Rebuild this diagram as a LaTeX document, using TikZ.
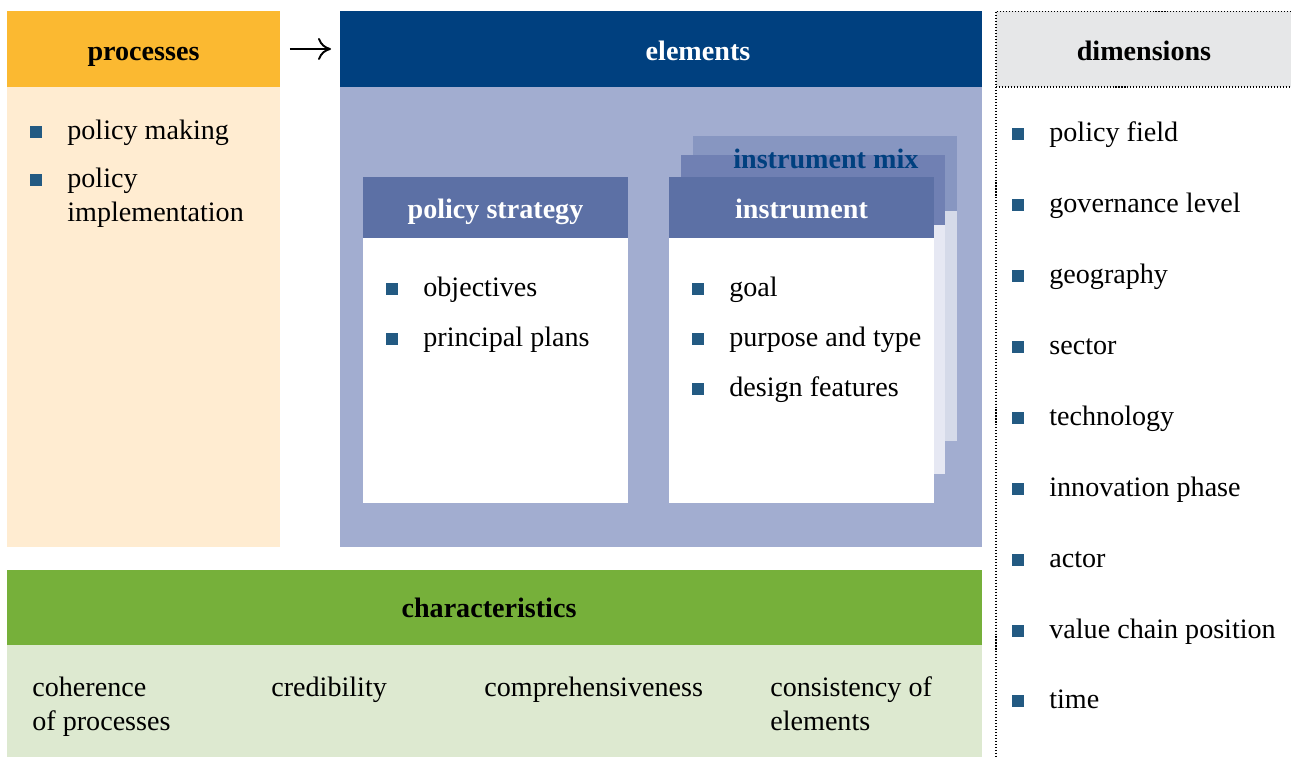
\documentclass[tikz,border=0pt]{standalone}
\usepackage{fontspec}
\setmainfont{Liberation Serif}
\usetikzlibrary{arrows.meta}

\definecolor{procH}{RGB}{251,185,49}
\definecolor{procB}{RGB}{255,236,209}
\definecolor{elemH}{RGB}{0,64,127}
\definecolor{elemB}{RGB}{162,173,208}
\definecolor{innerH}{RGB}{92,112,165}
\definecolor{midH}{RGB}{112,128,179}
\definecolor{midB}{RGB}{230,232,243}
\definecolor{backH}{RGB}{135,150,193}
\definecolor{backB}{RGB}{213,218,233}
\definecolor{mixC}{RGB}{0,64,127}
\definecolor{charH}{RGB}{118,176,58}
\definecolor{charB}{RGB}{221,233,208}
\definecolor{dimH}{RGB}{230,231,232}
\definecolor{bulC}{RGB}{35,90,130}

% bullet item: name, bullet x, bullet y, text
\newcommand{\bulletitem}[4]{%
  \node[bul] (#1b) at (#2,#3) {};
  \node[txt] (#1) at (#2+31,#3+7) {#4};
}

\begin{document}
\begin{tikzpicture}[x=0.02cm,y=-0.02cm,
  every node/.style={font=\fontsize{16}{19.6}\selectfont},
  panel/.style={anchor=north west, inner sep=0, outer sep=0, draw=none},
  head/.style={font=\fontsize{16}{19.6}\selectfont\bfseries, anchor=base, inner sep=0},
  txt/.style={anchor=base west, inner sep=0},
  bul/.style={fill=bulC, minimum size=0.23cm, inner sep=0, outer sep=0},
  dotline/.style={line width=0.6pt, dash pattern=on 0.6pt off 1.1pt},
]
\useasboundingbox (0,0) rectangle (1291,757);

% processes column
\node[panel, fill=procB, minimum width=5.46cm, minimum height=9.2cm] (procb) at (7,87) {};
\node[panel, fill=procH, minimum width=5.46cm, minimum height=1.52cm] (proch) at (7,11) {};
\node[head] (proct) at (143.5,60.5) {processes};
\bulletitem{p1}{36}{132}{policy making}
\node[bul] (p2b) at (36,180) {};
\node[txt] (p2) at (67,187) {\begin{tabular}[t]{@{}l@{}}policy\\implementation\end{tabular}};

% elements panel
\node[panel, fill=elemB, minimum width=12.84cm, minimum height=9.2cm] (elemb) at (340,87) {};
\node[panel, fill=elemH, minimum width=12.84cm, minimum height=1.52cm] (elemh) at (340,11) {};
\node[head, text=white] (elemt) at (698,60.5) {elements};

\draw[-{To[length=2.6mm,width=4.4mm]}, line width=1.1pt, shorten >=0.18cm, shorten <=0.2cm]
  (proch) -- (elemh);

% stacked instrument cards (back to front)
\node[panel, fill=backB, minimum width=5.28cm, minimum height=4.6cm] (backb) at (693,211) {};
\node[panel, fill=backH, minimum width=5.28cm, minimum height=1.5cm] (backh) at (693,136) {};
\node[panel, fill=midB, minimum width=5.28cm, minimum height=4.98cm] (midb) at (681,225) {};
\node[panel, fill=midH, minimum width=5.28cm, minimum height=1.4cm] (midh) at (681,155) {};
\node[head, text=mixC, anchor=base west] (mixt) at (733,168) {instrument mix};

\node[panel, fill=white, minimum width=5.3cm, minimum height=5.3cm] (instb) at (669,238) {};
\node[panel, fill=innerH, minimum width=5.3cm, minimum height=1.22cm] (insth) at (669,177) {};
\node[head, text=white] (instt) at (801.5,218) {instrument};
\bulletitem{i1}{698}{289}{goal}
\bulletitem{i2}{698}{339}{purpose and type}
\bulletitem{i3}{698}{389}{design features}

% policy strategy card
\node[panel, fill=white, minimum width=5.3cm, minimum height=5.3cm] (polb) at (363,238) {};
\node[panel, fill=innerH, minimum width=5.3cm, minimum height=1.22cm] (polh) at (363,177) {};
\node[head, text=white] (polt) at (495.5,218) {policy strategy};
\bulletitem{s1}{392}{289}{objectives}
\bulletitem{s2}{392}{339}{principal plans}

% characteristics band
\node[panel, fill=charB, minimum width=19.5cm, minimum height=2.24cm] (charb) at (7,645) {};
\node[panel, fill=charH, minimum width=19.5cm, minimum height=1.5cm] (charh) at (7,570) {};
\node[head] (chart) at (489,617) {characteristics};
\node[txt] (c1) at (32,696) {\begin{tabular}[t]{@{}l@{}}coherence\\of processes\end{tabular}};
\node[txt] (c2) at (271,696) {credibility};
\node[txt] (c3) at (484,696) {comprehensiveness};
\node[txt] (c4) at (770,696) {\begin{tabular}[t]{@{}l@{}}consistency of\\elements\end{tabular}};

% dimensions column
\node[panel, fill=dimH, minimum width=5.9cm, minimum height=1.51cm] (dimh) at (996,11.5) {};
\node[head] (dimt) at (1144,61) {dimensions};
\draw[dotline] (dimh.north east) -- (dimh.north west) -- (996,757);
\draw[dotline] (dimh.south west) -- (dimh.south east);
\bulletitem{d1}{1018}{134}{policy field}
\bulletitem{d2}{1018}{205}{governance level}
\bulletitem{d3}{1018}{276}{geography}
\bulletitem{d4}{1018}{347}{sector}
\bulletitem{d5}{1018}{418}{technology}
\bulletitem{d6}{1018}{489}{innovation phase}
\bulletitem{d7}{1018}{560}{actor}
\bulletitem{d8}{1018}{631}{value chain position}
\bulletitem{d9}{1018}{701}{time}
\end{tikzpicture}
\end{document}
